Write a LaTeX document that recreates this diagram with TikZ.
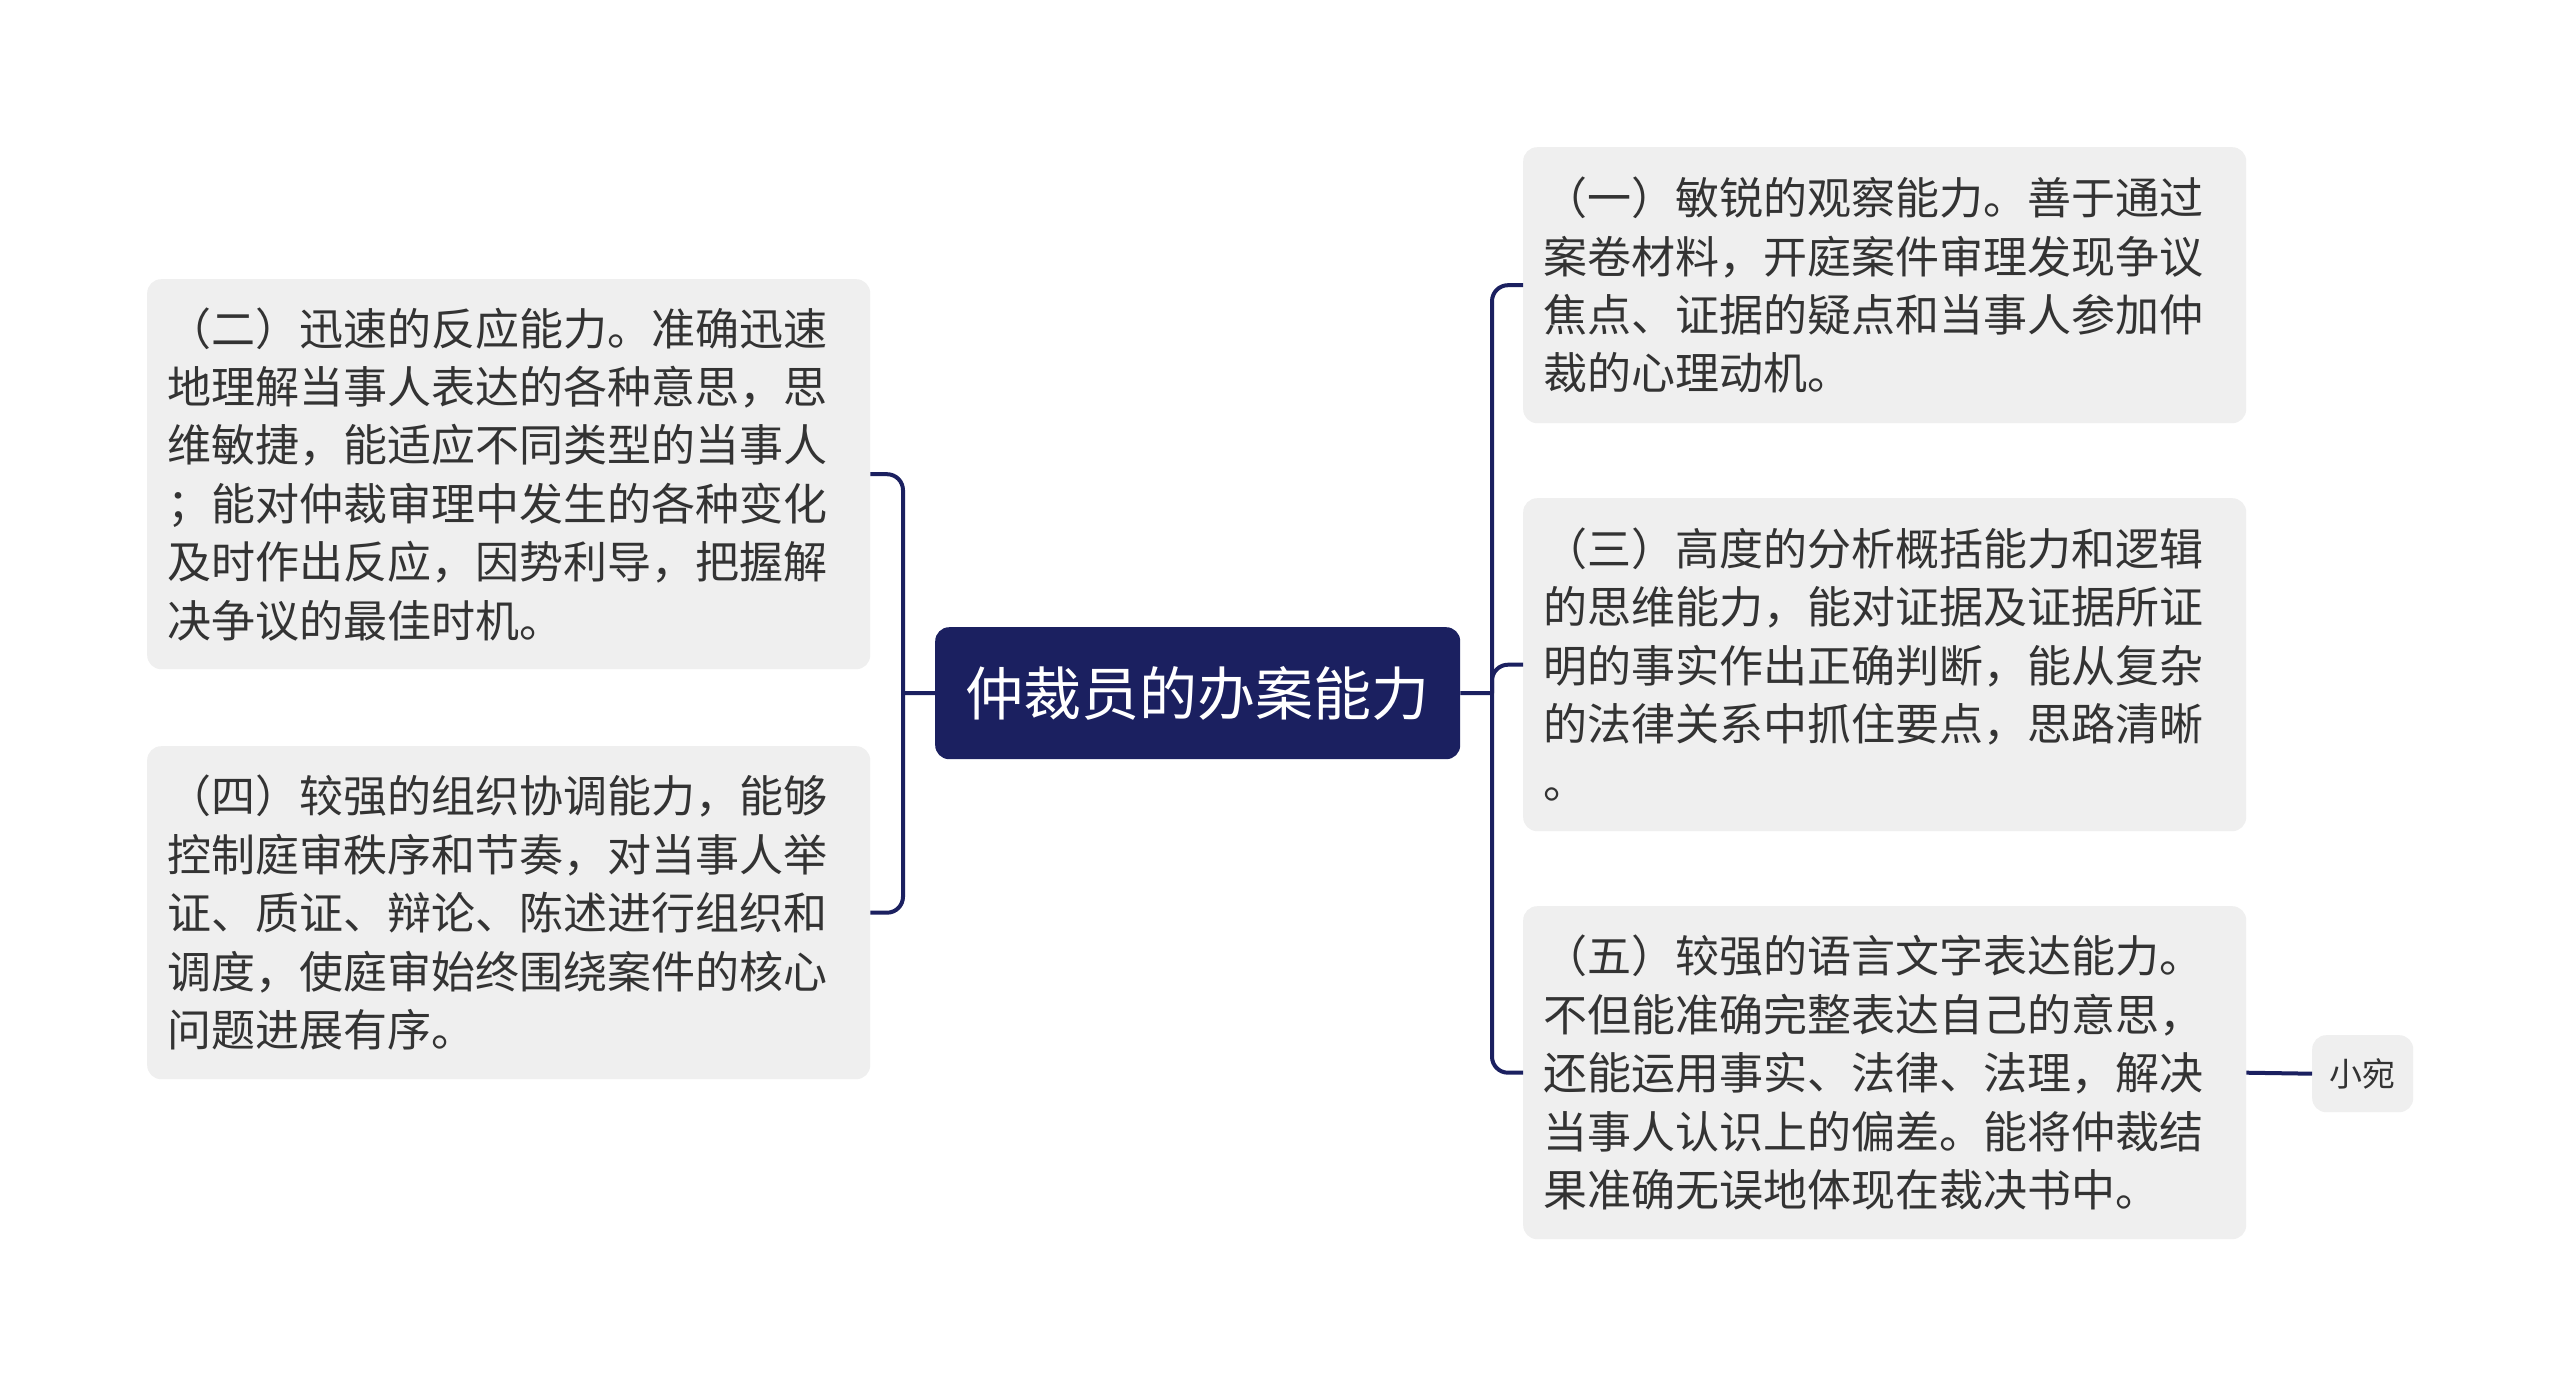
\documentclass[tikz,border=0pt]{standalone}
\usepackage{fontspec}
\newfontfamily\cjk{Noto Sans CJK SC}
\definecolor{navy}{RGB}{27,32,96}
\definecolor{boxgray}{RGB}{239,239,239}
\definecolor{txt}{RGB}{51,51,51}
\begin{document}
\begin{tikzpicture}[x=1pt,y=-1pt,
  conn/.style={draw=navy,line width=4pt},
  topic/.style={fill=boxgray,rounded corners=14pt,anchor=north west,align=left,
    inner xsep=20pt,inner ysep=0pt,text width=683pt,text=txt,
    font=\cjk\fontsize{44pt}{58.4pt}\selectfont},
  central/.style={fill=navy,rounded corners=14pt,anchor=north west,
    minimum width=525pt,minimum height=132pt,inner sep=0pt,text=white,
    font=\cjk\fontsize{58pt}{70pt}\selectfont},
  small/.style={fill=boxgray,rounded corners=14pt,anchor=north west,
    minimum width=101pt,minimum height=77pt,inner sep=0pt,text=txt,
    font=\cjk\fontsize{33pt}{40pt}\selectfont}]
\useasboundingbox[fill=white] (0,0) rectangle (2560,1387);

\node[central] (c) at (935,627) {仲裁员的办案能力};

\node[topic,minimum height=390pt] (l1) at (147,279) {（二）迅速的反应能力。准确迅速\\地理解当事人表达的各种意思，思\\维敏捷，能适应不同类型的当事人\\；能对仲裁审理中发生的各种变化\\及时作出反应，因势利导，把握解\\决争议的最佳时机。};
\node[topic,minimum height=333pt] (l2) at (147,746) {（四）较强的组织协调能力，能够\\控制庭审秩序和节奏，对当事人举\\证、质证、辩论、陈述进行组织和\\调度，使庭审始终围绕案件的核心\\问题进展有序。};

\node[topic,minimum height=276pt] (r1) at (1523,147) {（一）敏锐的观察能力。善于通过\\案卷材料，开庭案件审理发现争议\\焦点、证据的疑点和当事人参加仲\\裁的心理动机。};
\node[topic,minimum height=333pt] (r2) at (1523,498) {（三）高度的分析概括能力和逻辑\\的思维能力，能对证据及证据所证\\明的事实作出正确判断，能从复杂\\的法律关系中抓住要点，思路清晰\\。};
\node[topic,minimum height=333pt] (r3) at (1523,906) {（五）较强的语言文字表达能力。\\不但能准确完整表达自己的意思，\\还能运用事实、法律、法理，解决\\当事人认识上的偏差。能将仲裁结\\果准确无误地体现在裁决书中。};

\node[small] (s) at (2312,1035) {小宛};

\coordinate (lj) at (903,693);
\coordinate (rj) at (1492,693);

\draw[conn] (c.west) -- (lj);
\draw[conn,rounded corners=16pt] (l1.east) -| (lj);
\draw[conn,rounded corners=16pt] (l2.east) -| (lj);

\draw[conn] (c.east) -- (rj);
\draw[conn,rounded corners=16pt] (rj) |- (r1.west);
\draw[conn,rounded corners=16pt] (rj) |- (r2.west);
\draw[conn,rounded corners=16pt] (rj) |- (r3.west);

\draw[conn] (r3.east) -- (s.west);
\end{tikzpicture}
\end{document}
